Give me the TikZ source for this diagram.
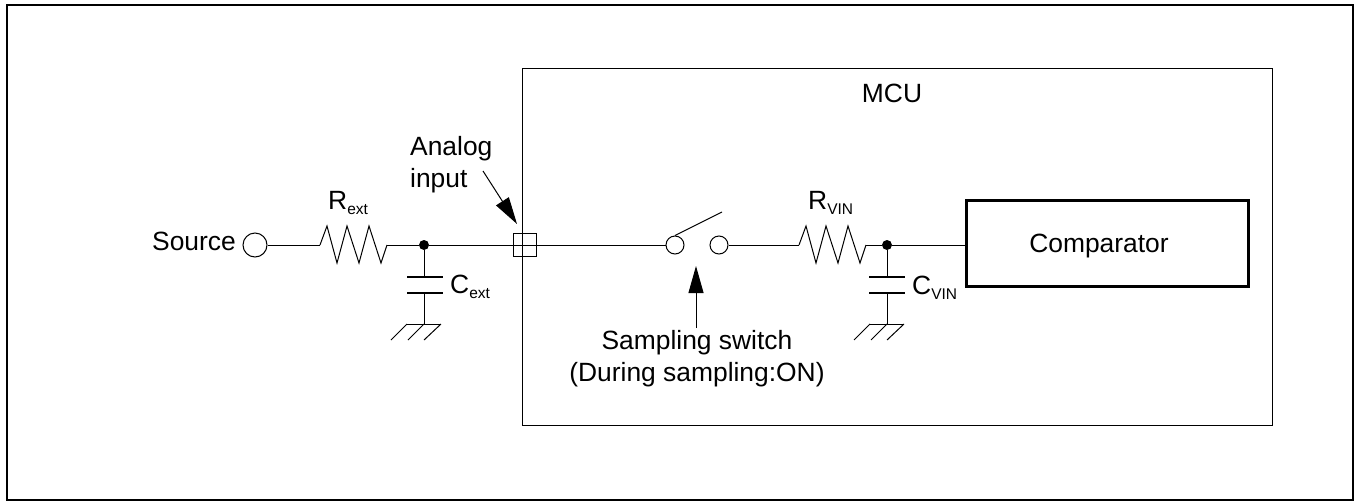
\documentclass[tikz,border=0pt]{standalone}
\usepackage{fontspec}
\setmainfont{Liberation Sans}
\usetikzlibrary{arrows.meta}
\newcommand{\sublabel}[2]{#1\raisebox{-5pt}{\fontsize{15.5}{18}\selectfont #2}}
\tikzset{
	wire/.style={line width=1pt},
	lbl/.style={anchor=base west, inner sep=0pt, font=\fontsize{26.4}{32}\selectfont},
	lblc/.style={align=center, inner sep=0pt, font=\fontsize{26.4}{32}\selectfont},
	term/.style={circle, draw, line width=1pt, fill=white, inner sep=0pt},
	junction/.style={circle, fill=black, inner sep=0pt, minimum size=10pt},
	pointer/.style={wire, -{Triangle[length=27pt,width=15pt]}},
	plate/.style={line width=2.2pt},
	resistor/.pic={
		\draw[wire] (0,0) -- (7,-19) -- (17,18) -- (27,-19) -- (39,18) -- (49,-19) -- (61,18) -- (67,0);
	},
	earth/.pic={
		\draw[wire] (-17,0) -- (17,0);
		\draw[wire] (17,0) -- (0,16);
		\draw[wire] (0,0) -- (-16,16);
		\draw[wire] (-17,0) -- (-33,16);
	}
}
\begin{document}
\begin{tikzpicture}[x=1pt, y=-1pt]
	\useasboundingbox (0,0) rectangle (1355,501);
	% Frames
	\node[draw, line width=2pt, minimum width=1346.5pt, minimum height=495pt, inner sep=0pt] (frame) at (679.75,252.5) {};
	\node[draw, line width=1pt, minimum width=750pt, minimum height=357pt, inner sep=0pt] (mcu) at (897,246.5) {};
	\node[draw, line width=2.4pt, minimum width=282pt, minimum height=86pt, inner sep=0pt] (comparator) at (1107.5,243.5) {};
	\node[lbl, anchor=base] (comparatorlabel) at (1099,252) {Comparator};
	\node[lbl, anchor=base] (mculabel) at (892,102) {MCU};

	% Source side
	\node[lbl] (source) at (152,250) {Source};
	\node[term, minimum size=24pt] (input) at (255,245) {};
	\coordinate (rextin) at (320,245);
	\coordinate (rextout) at (387,245);
	\pic at (rextin) {resistor};
	\node[lbl] (rext) at (328,209) {\sublabel{R}{ext}};
	\node[junction] (dotext) at (424,245) {};
	\coordinate (cexttop) at (424,277);
	\coordinate (cextbot) at (424,293);
	\coordinate (gndext) at (424,324);
	\draw[plate] (407,277) -- (443,277);
	\draw[plate] (407,293) -- (443,293);
	\node[lbl] (cext) at (450,293) {\sublabel{C}{ext}};
	\pic at (gndext) {earth};

	% Analog input pin
	\node[draw, line width=1pt, minimum size=23pt, inner sep=0pt] (pin) at (524.5,245) {};
	\node[lbl] (analog) at (410,155) {Analog};
	\node[lbl] (inputlabel) at (410,187) {input};
	\coordinate (analogtail) at (483,171);
	\coordinate (analogtip) at (517,224);

	% Switch
	\node[term, minimum size=18pt] (swa) at (675,245) {};
	\node[term, minimum size=18pt] (swb) at (719,245) {};
	\coordinate (armtop) at (722,212);
	\coordinate (swtail) at (696,328);
	\coordinate (swtip) at (696,266);
	\node[lblc] (swlabel) at (697,359) {Sampling switch\\(During sampling:ON)};

	% Comparator side
	\coordinate (rvinin) at (799,245);
	\coordinate (rvinout) at (866,245);
	\pic at (rvinin) {resistor};
	\node[lbl] (rvin) at (808,209) {\sublabel{R}{VIN}};
	\node[junction] (dotvin) at (887,245) {};
	\coordinate (cvintop) at (887,277);
	\coordinate (cvinbot) at (887,293);
	\coordinate (gndvin) at (887,324);
	\draw[plate] (869,277) -- (905,277);
	\draw[plate] (869,293) -- (905,293);
	\node[lbl] (cvin) at (912,294) {\sublabel{C}{VIN}};
	\pic at (gndvin) {earth};

	% Connect nodes
	\draw[wire] (input) -- (rextin);
	\draw[wire] (rextout) -- (dotext);
	\draw[wire] (dotext) -- (pin.center);
	\draw[wire] (pin.center) -- (swa);
	\draw[wire] (dotext) -- (cexttop);
	\draw[wire] (cextbot) -- (gndext);
	\draw[wire] (swa.north) -- (armtop);
	\draw[wire] (swb) -- (rvinin);
	\draw[wire] (rvinout) -- (dotvin);
	\draw[wire] (dotvin) -- (comparator.west |- dotvin);
	\draw[wire] (dotvin) -- (cvintop);
	\draw[wire] (cvinbot) -- (gndvin);
	\draw[pointer] (analogtail) -- (analogtip);
	\draw[pointer] (swtail) -- (swtip);
\end{tikzpicture}
\end{document}
